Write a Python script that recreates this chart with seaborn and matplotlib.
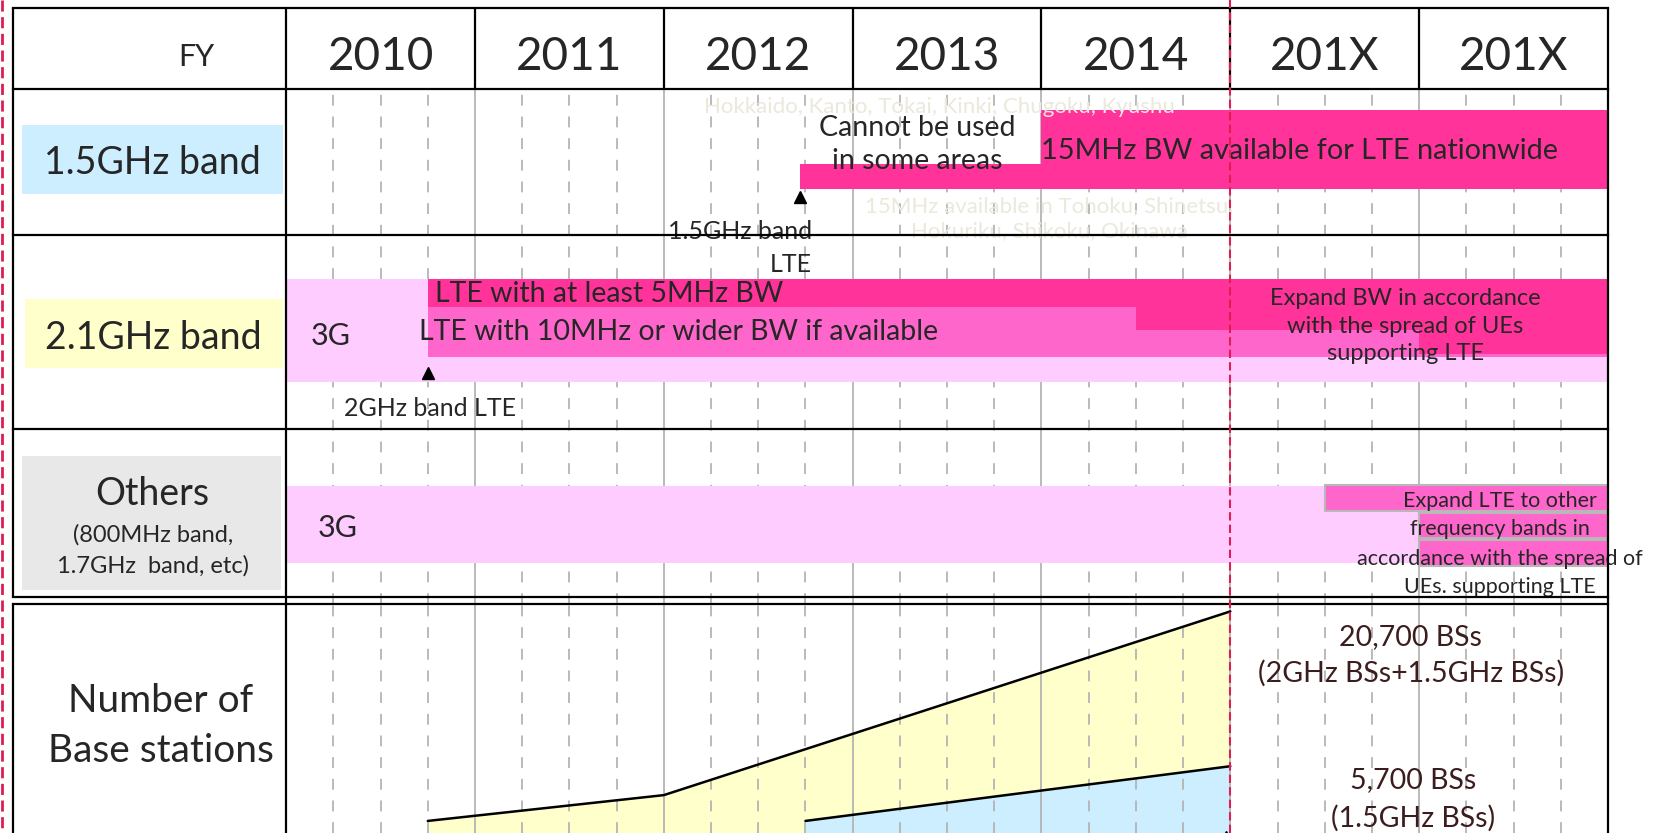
import numpy as np
import matplotlib
matplotlib.use("Agg")
import matplotlib.pyplot as plt
from matplotlib.patches import Rectangle
from matplotlib.lines import Line2D
from matplotlib.transforms import blended_transform_factory
import seaborn as sns

# fiscal year columns
fy_labels = ["2010", "2011", "2012", "2013", "2014", "201X", "201X"]
fy_first = 2010
fy_last = 2017
fy_cutoff = 2015  # red dashed line

# 1.5GHz band LTE
lte15_partial_start = 2012.72
lte15_full_start = 2014.0

# 2.1GHz band
g3_start = 2010.0
lte21_start = 2010.75
bw_step1_start = 2014.5
bw_step2_start = 2016.0

# other bands (three rows of the LTE expansion boxes)
others_lte_start = [2015.5, 2016.0, 2016.0]

# number of base stations
bs_years = [2010.75, 2012.0, 2015.0]
bs_total = [400, 2900, 20700]
bs15_years = [2012.75, 2015.0]
bs15_total = [400, 5700]

HOT = "#ff3399"
MID = "#ff66cc"
LIGHT = "#ffccff"
GRID = "#b4b4b4"
FAINT = "#ebe8dc"
RED = "#dc1e50"

sns.set_theme(style="white")
plt.rcParams["font.family"] = ["Lato", "DejaVu Sans"]

# layout in reference pixels (1568 x 786)
W, H = 1568, 786
X0, X1 = 270, 1517


def px(year):
    return X0 + (year - fy_first) * (X1 - X0) / (fy_last - fy_first)


def frac(x, y, w, h):
    return [x / W, 1 - (y + h) / H, w / W, h / H]


fig = plt.figure(figsize=(16.62, 8.33), dpi=100)
fig.patch.set_facecolor("white")


def style_grid(ax, below):
    ax.set_xlim(fy_first, fy_last)
    ax.set_xticks(range(fy_first, fy_last + 1))
    ax.set_xticks(np.arange(fy_first, fy_last + 0.01, 0.25), minor=True)
    ax.grid(axis="x", which="major", color=GRID, lw=1.3, ls="-")
    ax.grid(axis="x", which="minor", color=GRID, lw=1.3, ls=(0, (6, 6)))
    ax.grid(axis="y", visible=False)
    ax.set_axisbelow(below)
    ax.tick_params(which="both", length=0, labelbottom=False, labelleft=False)
    for s in ax.spines.values():
        s.set_visible(False)
    ax.patch.set_alpha(0)


# band rows
ax = fig.add_axes(frac(X0, 84, X1 - X0, 570 - 84))
style_grid(ax, True)
ax.set_ylim(570, 84)


def lane(top, bot, start, color, edgecolor="none", linewidth=0):
    ax.barh((top + bot) / 2, fy_last - start, left=start, height=bot - top,
            color=color, edgecolor=edgecolor, linewidth=linewidth)


lane(155, 178, lte15_partial_start, HOT)
lane(104, 178, lte15_full_start, HOT)
lane(263.5, 360, g3_start, LIGHT)
lane(289, 336.5, lte21_start, MID)
lane(263.5, 289.5, lte21_start, HOT)
lane(289, 311, bw_step1_start, HOT)
lane(310.5, 334, bw_step2_start, HOT)
lane(458.5, 531, g3_start, LIGHT)
for (top, bot), start in zip([(457.6, 482), (483.7, 508), (509.4, 533.7)],
                             others_lte_start):
    lane(top, bot, start, MID, edgecolor="#b8b8b8", linewidth=1.5)
ax.plot([lte15_partial_start], [186], marker="^", color="black", ms=8)
ax.plot([lte21_start], [352], marker="^", color="black", ms=8)

# base stations
ax2 = fig.add_axes(frac(X0, 570, X1 - X0, 216))
style_grid(ax2, False)
ax2.set_ylim(-770, 21410)
floor = ax2.get_ylim()[0]
ax2.fill_between(bs_years, bs_total, floor, color="#ffffcc", lw=0, zorder=1)
ax2.fill_between(bs15_years, bs15_total, floor, color="#cceeff", lw=0, zorder=1)
sns.lineplot(x=bs_years, y=bs_total, ax=ax2, color="black", lw=1.8, zorder=3)
sns.lineplot(x=bs15_years, y=bs15_total, ax=ax2, color="black", lw=1.8, zorder=3)

# overlay: table, labels, notes
ax0 = fig.add_axes([0, 0, 1, 1])
ax0.set_xlim(0, W)
ax0.set_ylim(H, 0)
ax0.axis("off")
ax0.patch.set_alpha(0)


def label(x, y, s, size, ha="center", **kw):
    # va="center" sits a touch high for this font, nudge down
    ax0.text(x, y + 2.5, s, fontsize=size, ha=ha, va="center", **kw)


for x, y, w, h, c in [(21, 118, 246, 65, "#cceeff"), (24, 282, 243, 65, "#ffffcc"),
                      (21, 430, 244, 127, "#e8e8e8")]:
    ax0.add_patch(Rectangle((x, y), w, h, color=c, lw=0, zorder=1))

lw = 1.6
for y in [8, 84, 222, 405, 563, 570]:
    ax0.plot([12, X1], [y, y], color="black", lw=lw, zorder=5, solid_capstyle="projecting")
ax0.plot([12, 12], [8, 563], color="black", lw=lw, zorder=5)
ax0.plot([12, 12], [570, 800], color="black", lw=lw, zorder=5)
ax0.plot([X0, X0], [8, 800], color="black", lw=lw, zorder=5)
ax0.plot([X1, X1], [8, 800], color="black", lw=lw, zorder=5)
for yr in range(fy_first + 1, fy_last):
    ax0.plot([px(yr), px(yr)], [8, 84], color="black", lw=lw, zorder=5)

label(185, 51, "FY", 22)
for i, lab in enumerate(fy_labels):
    label(px(fy_first + i + 0.5), 51, lab, 33)

label(144, 151, "1.5GHz band", 27)
label(145, 316, "2.1GHz band", 27)
label(144, 464, "Others", 27)
label(144, 502, "(800MHz band,", 17)
label(144, 531, "1.7GHz  band, etc)", 17)
label(152, 659, "Number of", 28)
label(152, 706, "Base stations", 28)

# 1.5GHz row notes
label(886, 98, "Hokkaido, Kanto, Tokai, Kinki, Chugoku, Kyushu", 16,
      color=FAINT, zorder=3)
label(865, 118, "Cannot be used", 20.5)
label(865, 149, "in some areas", 20.5)
label(px(lte15_full_start), 140, "15MHz BW available for LTE nationwide", 20.8,
      ha="left")
label(990, 192, "15MHz available in Tohoku, Shinetsu,", 16, color=FAINT, zorder=3)
label(990, 216, "Hokuriku, Shikoku, Okinawa", 16, color=FAINT, zorder=3)
label(766, 216, "1.5GHz band", 18, ha="right", zorder=3)
label(766, 247, "LTE", 18, ha="right")

# 2.1GHz row notes
label(293, 315, "3G", 22, ha="left")
label(410, 275, "LTE with at least 5MHz BW", 20.5, ha="left")
label(395, 311, "LTE with 10MHz or wider BW if available", 20.5, ha="left")
for y, t in zip([279, 306, 331], ["Expand BW in accordance",
                                  "with the spread of UEs", "supporting LTE"]):
    label(1326, y, t, 17)
label(406, 383, "2GHz band LTE", 18)

# others row notes
label(300, 496, "3G", 22, ha="left")
for y, t in zip([470, 497, 525, 551], ["Expand LTE to other", "frequency bands in",
                                       "accordance with the spread of",
                                       "UEs. supporting LTE"]):
    label(1415, y, t, 15.5)

# base station notes
BS_TXT = "#3c1d1d"
label(1331, 599, "20,700 BSs", 20.5, color=BS_TXT)
label(1331, 633, "(2GHz BSs+1.5GHz BSs)", 20.5, color=BS_TXT)
label(1333, 734, "5,700 BSs", 20.5, color=BS_TXT)
label(1333, 770, "(1.5GHz BSs)", 20.5, color=BS_TXT)
ax0.plot([1157], [790], marker="^", color="black", ms=8, clip_on=False)

# red dashed markers
ax0.plot([2, 2], [0, H], color=RED, lw=2, ls=(0, (4, 2)), zorder=6)
trans = blended_transform_factory(ax.transData, fig.transFigure)
fig.add_artist(Line2D([fy_cutoff, fy_cutoff], [0, 1], transform=trans,
                      color=RED, lw=1.5, ls=(0, (4, 2)), zorder=10))

fig.savefig("out.png", dpi=100, facecolor="white")
